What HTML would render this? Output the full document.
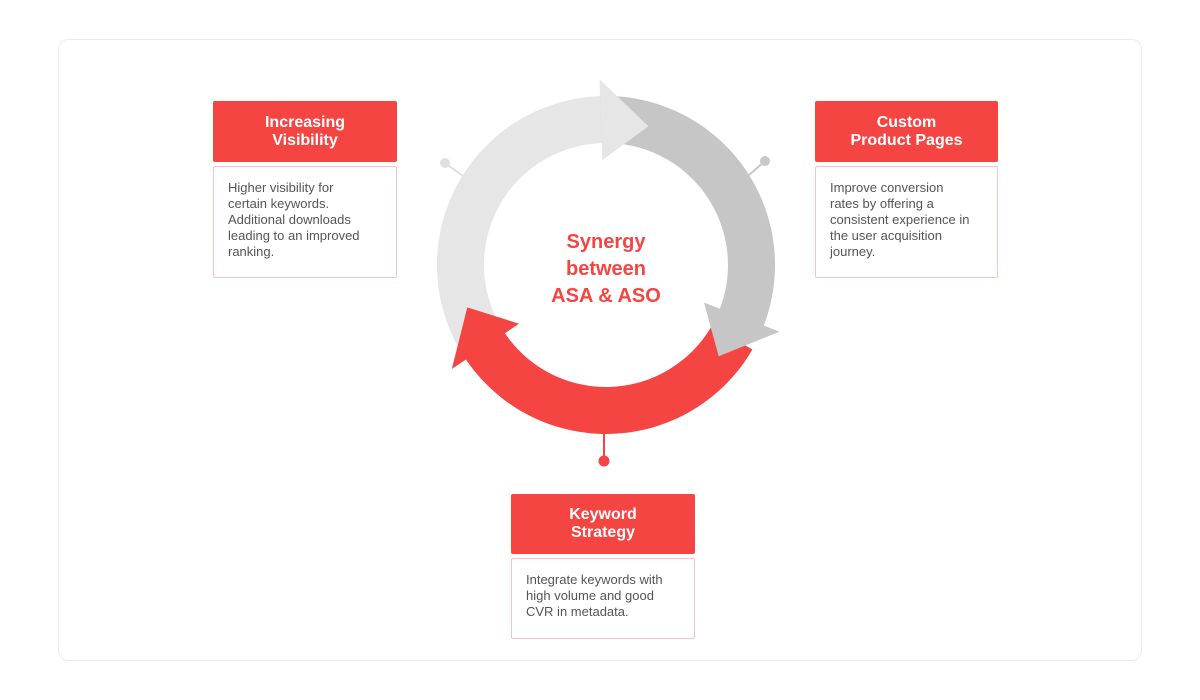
<!DOCTYPE html>
<html><head><meta charset="utf-8"><style>
body{margin:0;width:1200px;height:700px;background:#fff;position:relative;font-family:"Liberation Sans",sans-serif;overflow:hidden}
.card{position:absolute;left:58px;top:39px;width:1082px;height:620px;border:1px solid #ececec;border-radius:10px;background:#fff}
.hd{position:absolute;background:#f44543;color:#fff;font-size:16px;font-weight:bold;text-align:center;line-height:18px;display:flex;align-items:center;justify-content:center;border-radius:2px}
.bd{position:absolute;border:1px solid #f6c3c2;border-radius:2px;color:#555;font-size:13px;line-height:16px;padding:13px 14px;box-sizing:border-box;white-space:nowrap}
svg{position:absolute;left:0;top:0}
</style></head><body>
<div class="card"></div>
<svg width="1200" height="700" id="s">
<g stroke="#e0e0e0" stroke-width="2"><line x1="445" y1="163" x2="463" y2="176"/></g>
<circle cx="445" cy="163" r="5" fill="#e0e0e0"/>
<line x1="765" y1="161" x2="748" y2="176" stroke="#c8c8c8" stroke-width="2"/>
<circle cx="765" cy="161" r="5" fill="#c8c8c8"/>
<line x1="604" y1="430" x2="604" y2="460" stroke="#f44543" stroke-width="2"/>
<circle cx="604" cy="461" r="5.5" fill="#f44543"/>
<g id="arr"></g>
<text x="606" y="248" text-anchor="middle" fill="#f44543" font-size="20" font-weight="bold" font-family="Liberation Sans, sans-serif">Synergy</text>
<text x="606" y="275" text-anchor="middle" fill="#f44543" font-size="20" font-weight="bold" font-family="Liberation Sans, sans-serif">between</text>
<text x="606" y="302" text-anchor="middle" fill="#f44543" font-size="20" font-weight="bold" font-family="Liberation Sans, sans-serif">ASA &amp; ASO</text>
</svg>
<script>
var cx=606,cy=265,ro=169,ri=122,rm=145,wo=186,wi=105;
function p(r,a){a=a*Math.PI/180;return (cx+r*Math.cos(a)).toFixed(1)+","+(cy+r*Math.sin(a)).toFixed(1)}
function band(a0,a1,c){var big=(a1-a0)>180?1:0;return '<path fill="'+c+'" d="M'+p(ro,a0)+' A'+ro+','+ro+' 0 '+big+' 1 '+p(ro,a1)+' L'+p(ri,a1)+' A'+ri+','+ri+' 0 '+big+' 0 '+p(ri,a0)+'Z"/>'}
function head(a1,a2,c){return '<path fill="'+c+'" d="M'+p(wo,a1)+' L'+p(rm,a2)+' L'+p(wi,a1)+'Z"/>'}
var L='#e6e6e6',D='#c6c6c6',R='#f44543';
document.getElementById('arr').innerHTML=
band(140,269,L)+band(268,382,D)+band(30,147,R)+head(268,287,L)+head(381,399,D)+head(146,163,R);
</script>
<div class="hd" style="left:213px;top:101px;width:184px;height:61px">Increasing<br>Visibility</div>
<div class="bd" style="left:213px;top:166px;width:184px;height:112px">Higher visibility for<br>certain keywords.<br>Additional downloads<br>leading to an improved<br>ranking.</div>
<div class="hd" style="left:815px;top:101px;width:183px;height:61px">Custom<br>Product Pages</div>
<div class="bd" style="left:815px;top:166px;width:183px;height:112px">Improve conversion<br>rates by offering a<br>consistent experience in<br>the user acquisition<br>journey.</div>
<div class="hd" style="left:511px;top:494px;width:184px;height:60px">Keyword<br>Strategy</div>
<div class="bd" style="left:511px;top:558px;width:184px;height:81px">Integrate keywords with<br>high volume and good<br>CVR in metadata.</div>
</body></html>
